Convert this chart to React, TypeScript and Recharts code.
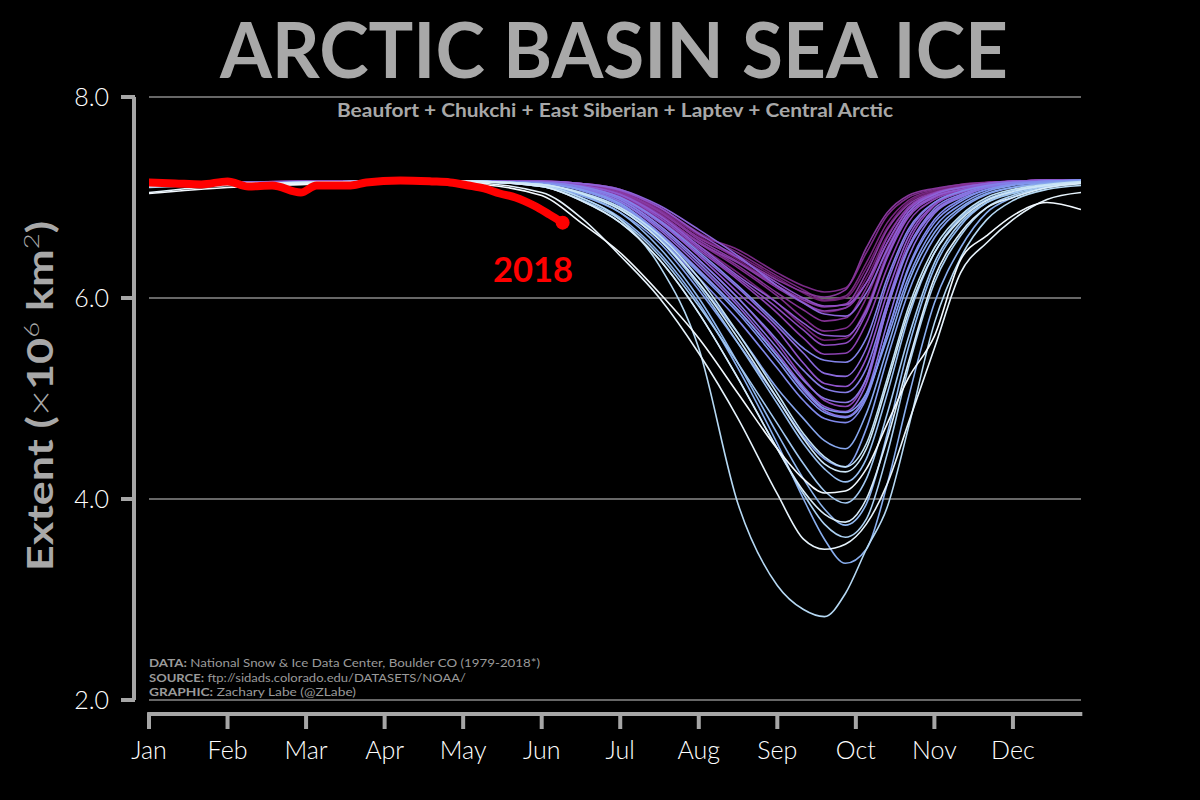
import React from 'react'
import { LineChart, Line, XAxis, YAxis, CartesianGrid, ReferenceLine } from 'recharts'

// day of year for every sample point (shared by 1979-2017)
const DAYS = [0, 30, 60, 90, 120, 150, 165, 180, 195, 210, 225, 240, 250, 258, 266, 274, 282, 290, 300, 310, 320, 330, 343, 356]
const MONTH_TICKS = [0, 30, 60, 90, 120, 150, 180, 210, 240, 270, 300, 330]
const MONTHS = ['Jan', 'Feb', 'Mar', 'Apr', 'May', 'Jun', 'Jul', 'Aug', 'Sep', 'Oct', 'Nov', 'Dec']
const Y_TICKS = [2, 4, 6, 8]

// extent, 10^6 km^2
const E1979 = [7.14, 7.15, 7.15, 7.16, 7.16, 7.16, 7.14, 7.08, 6.9, 6.62, 6.38, 6.12, 5.96, 5.86, 5.9, 6.2, 6.62, 6.9, 7.04, 7.1, 7.14, 7.16, 7.17, 7.17]
const E1980 = [7.13, 7.15, 7.16, 7.16, 7.16, 7.16, 7.13, 7.05, 6.85, 6.6, 6.42, 6.2, 6.05, 5.97, 6.0, 6.3, 6.7, 6.95, 7.06, 7.12, 7.15, 7.16, 7.17, 7.17]
const E1981 = [7.14, 7.15, 7.15, 7.16, 7.16, 7.15, 7.11, 7.02, 6.8, 6.52, 6.25, 5.95, 5.72, 5.58, 5.6, 5.9, 6.45, 6.82, 7.0, 7.08, 7.13, 7.15, 7.17, 7.17]
const E1982 = [7.15, 7.15, 7.16, 7.16, 7.16, 7.16, 7.14, 7.07, 6.9, 6.65, 6.45, 6.22, 6.08, 5.98, 6.02, 6.35, 6.75, 6.97, 7.07, 7.12, 7.15, 7.16, 7.17, 7.17]
const E1983 = [7.14, 7.15, 7.16, 7.16, 7.16, 7.16, 7.14, 7.08, 6.88, 6.63, 6.48, 6.25, 6.12, 6.06, 6.1, 6.45, 6.82, 7.0, 7.08, 7.13, 7.15, 7.16, 7.17, 7.17]
const E1984 = [7.14, 7.15, 7.15, 7.16, 7.16, 7.15, 7.12, 7.04, 6.84, 6.55, 6.3, 6.02, 5.8, 5.67, 5.7, 6.0, 6.5, 6.85, 7.02, 7.1, 7.14, 7.16, 7.17, 7.17]
const E1985 = [7.15, 7.15, 7.16, 7.16, 7.16, 7.15, 7.12, 7.03, 6.82, 6.56, 6.32, 6.05, 5.88, 5.77, 5.8, 6.1, 6.55, 6.88, 7.03, 7.1, 7.14, 7.16, 7.17, 7.17]
const E1986 = [7.14, 7.15, 7.15, 7.16, 7.16, 7.16, 7.13, 7.06, 6.87, 6.6, 6.4, 6.18, 6.06, 6.01, 6.08, 6.5, 6.85, 7.02, 7.09, 7.13, 7.15, 7.16, 7.17, 7.17]
const E1987 = [7.14, 7.15, 7.16, 7.16, 7.16, 7.15, 7.13, 7.05, 6.86, 6.58, 6.36, 6.12, 5.98, 5.91, 5.94, 6.25, 6.68, 6.93, 7.05, 7.11, 7.14, 7.16, 7.17, 7.17]
const E1988 = [7.15, 7.15, 7.15, 7.16, 7.16, 7.15, 7.12, 7.04, 6.83, 6.55, 6.35, 6.1, 5.95, 5.87, 5.9, 6.15, 6.6, 6.9, 7.04, 7.1, 7.14, 7.16, 7.17, 7.17]
const E1989 = [7.14, 7.15, 7.15, 7.16, 7.16, 7.15, 7.11, 7.01, 6.78, 6.48, 6.18, 5.85, 5.6, 5.44, 5.45, 5.75, 6.3, 6.75, 6.98, 7.07, 7.13, 7.15, 7.17, 7.17]
const E1990 = [7.13, 7.14, 7.15, 7.16, 7.16, 7.14, 7.1, 6.98, 6.72, 6.38, 6.0, 5.55, 5.2, 4.98, 4.92, 5.2, 5.95, 6.55, 6.92, 7.05, 7.12, 7.15, 7.16, 7.17]
const E1991 = [7.14, 7.15, 7.15, 7.16, 7.16, 7.15, 7.12, 7.03, 6.8, 6.5, 6.2, 5.9, 5.68, 5.53, 5.55, 5.85, 6.4, 6.8, 7.0, 7.08, 7.13, 7.15, 7.17, 7.17]
const E1992 = [7.15, 7.15, 7.16, 7.16, 7.16, 7.16, 7.14, 7.07, 6.9, 6.64, 6.4, 6.15, 6.0, 5.92, 5.93, 6.15, 6.55, 6.88, 7.04, 7.1, 7.14, 7.16, 7.17, 7.17]
const E1993 = [7.14, 7.15, 7.15, 7.16, 7.16, 7.15, 7.1, 6.99, 6.75, 6.42, 6.05, 5.68, 5.35, 5.15, 5.12, 5.4, 6.05, 6.6, 6.93, 7.05, 7.12, 7.15, 7.16, 7.17]
const E1994 = [7.14, 7.15, 7.15, 7.16, 7.16, 7.15, 7.12, 7.03, 6.82, 6.52, 6.22, 5.95, 5.75, 5.63, 5.62, 5.88, 6.42, 6.82, 7.01, 7.08, 7.13, 7.15, 7.17, 7.17]
const E1995 = [7.13, 7.14, 7.15, 7.16, 7.16, 7.14, 7.09, 6.96, 6.68, 6.32, 5.92, 5.45, 5.12, 4.92, 4.87, 5.15, 5.9, 6.5, 6.87, 7.02, 7.1, 7.14, 7.16, 7.17]
const E1996 = [7.15, 7.15, 7.16, 7.16, 7.16, 7.16, 7.14, 7.08, 6.92, 6.68, 6.42, 6.12, 5.95, 5.84, 5.82, 6.05, 6.48, 6.85, 7.03, 7.1, 7.14, 7.16, 7.17, 7.17]
const E1997 = [7.14, 7.15, 7.15, 7.16, 7.16, 7.15, 7.11, 7.0, 6.76, 6.44, 6.1, 5.72, 5.45, 5.25, 5.22, 5.5, 6.15, 6.65, 6.95, 7.06, 7.12, 7.15, 7.16, 7.17]
const E1998 = [7.13, 7.14, 7.15, 7.15, 7.16, 7.14, 7.08, 6.94, 6.65, 6.28, 5.88, 5.42, 5.08, 4.88, 4.82, 5.05, 5.75, 6.4, 6.84, 7.0, 7.1, 7.14, 7.16, 7.17]
const E1999 = [7.13, 7.14, 7.15, 7.16, 7.16, 7.14, 7.09, 6.96, 6.7, 6.35, 5.95, 5.5, 5.18, 5.0, 4.96, 5.2, 5.9, 6.48, 6.86, 7.01, 7.1, 7.14, 7.16, 7.17]
const E2000 = [7.14, 7.15, 7.15, 7.16, 7.16, 7.15, 7.1, 6.98, 6.72, 6.38, 6.0, 5.58, 5.28, 5.1, 5.06, 5.3, 5.95, 6.5, 6.89, 7.03, 7.11, 7.15, 7.16, 7.17]
const E2001 = [7.14, 7.15, 7.15, 7.16, 7.16, 7.15, 7.11, 7.0, 6.77, 6.46, 6.12, 5.75, 5.5, 5.38, 5.36, 5.6, 6.2, 6.68, 6.95, 7.06, 7.12, 7.15, 7.16, 7.17]
const E2002 = [7.13, 7.14, 7.15, 7.15, 7.16, 7.14, 7.07, 6.92, 6.6, 6.2, 5.78, 5.3, 4.98, 4.8, 4.76, 5.0, 5.65, 6.3, 6.78, 6.98, 7.08, 7.13, 7.16, 7.17]
const E2003 = [7.13, 7.14, 7.15, 7.16, 7.16, 7.14, 7.08, 6.93, 6.63, 6.25, 5.85, 5.38, 5.05, 4.86, 4.81, 5.02, 5.65, 6.28, 6.75, 6.96, 7.08, 7.13, 7.16, 7.17]
const E2004 = [7.13, 7.14, 7.15, 7.15, 7.16, 7.14, 7.08, 6.94, 6.64, 6.27, 5.88, 5.42, 5.1, 4.9, 4.86, 5.05, 5.6, 6.2, 6.7, 6.93, 7.06, 7.12, 7.15, 7.17]
const E2005 = [7.13, 7.14, 7.15, 7.16, 7.16, 7.12, 7.02, 6.85, 6.55, 6.08, 5.55, 5.0, 4.62, 4.4, 4.32, 4.7, 5.4, 6.05, 6.6, 6.88, 7.03, 7.1, 7.14, 7.16]
const E2006 = [7.12, 7.14, 7.15, 7.16, 7.16, 7.13, 7.05, 6.9, 6.6, 6.15, 5.65, 5.1, 4.8, 4.58, 4.5, 4.85, 5.5, 6.15, 6.65, 6.9, 7.04, 7.1, 7.14, 7.16]
const E2007 = [7.13, 7.14, 7.15, 7.16, 7.16, 7.12, 7.0, 6.8, 6.45, 5.95, 5.3, 4.55, 4.0, 3.6, 3.36, 3.5, 4.15, 5.0, 5.95, 6.5, 6.85, 7.0, 7.1, 7.15]
const E2008 = [7.12, 7.14, 7.15, 7.16, 7.16, 7.13, 7.03, 6.85, 6.5, 6.0, 5.35, 4.65, 4.2, 3.9, 3.74, 3.95, 4.65, 5.5, 6.3, 6.72, 6.95, 7.05, 7.12, 7.15]
const E2009 = [7.12, 7.14, 7.15, 7.16, 7.16, 7.13, 7.04, 6.88, 6.58, 6.12, 5.55, 4.95, 4.55, 4.3, 4.17, 4.4, 5.05, 5.8, 6.45, 6.8, 6.98, 7.07, 7.12, 7.15]
const E2010 = [7.11, 7.13, 7.15, 7.15, 7.16, 7.11, 6.98, 6.78, 6.42, 5.92, 5.35, 4.75, 4.35, 4.08, 3.96, 4.2, 4.85, 5.6, 6.35, 6.75, 6.95, 7.04, 7.11, 7.15]
const E2011 = [7.1, 7.13, 7.14, 7.15, 7.16, 7.11, 6.97, 6.75, 6.38, 5.85, 5.2, 4.5, 4.05, 3.75, 3.62, 3.8, 4.45, 5.3, 6.15, 6.62, 6.9, 7.02, 7.1, 7.14]
const E2012 = [7.12, 7.14, 7.15, 7.16, 7.16, 7.12, 7.0, 6.78, 6.32, 5.5, 3.95, 3.14, 2.9, 2.83, 3.06, 3.5, 3.92, 4.7, 5.75, 6.4, 6.78, 6.97, 7.08, 7.12]
const E2013 = [7.13, 7.14, 7.15, 7.16, 7.16, 7.13, 7.05, 6.9, 6.62, 6.2, 5.65, 5.05, 4.65, 4.42, 4.32, 4.55, 5.2, 5.9, 6.5, 6.82, 7.0, 7.08, 7.13, 7.16]
const E2014 = [7.12, 7.14, 7.15, 7.16, 7.16, 7.13, 7.04, 6.88, 6.58, 6.15, 5.6, 5.0, 4.6, 4.35, 4.27, 4.5, 5.15, 5.85, 6.45, 6.78, 6.97, 7.06, 7.12, 7.15]
const E2015 = [7.11, 7.13, 7.15, 7.15, 7.16, 7.11, 6.97, 6.75, 6.38, 5.85, 5.2, 4.5, 4.08, 3.85, 3.77, 4.0, 4.6, 5.35, 6.2, 6.65, 6.9, 7.0, 7.1, 7.14]
const E2016 = [7.05, 7.12, 7.14, 7.15, 7.15, 7.05, 6.8, 6.42, 6.0, 5.45, 4.8, 4.05, 3.6, 3.5, 3.55, 3.75, 4.15, 4.75, 5.5, 6.25, 6.55, 6.78, 6.98, 7.05]
const E2017 = [7.04, 7.1, 7.13, 7.15, 7.14, 7.02, 6.75, 6.45, 6.05, 5.6, 5.05, 4.5, 4.2, 4.06, 4.08, 4.3, 4.75, 5.2, 5.62, 6.38, 6.62, 6.82, 6.95, 6.88]

const YEARS = [1979, 1980, 1981, 1982, 1983, 1984, 1985, 1986, 1987, 1988, 1989, 1990, 1991, 1992, 1993, 1994, 1995, 1996, 1997, 1998, 1999, 2000, 2001, 2002, 2003, 2004, 2005, 2006, 2007, 2008, 2009, 2010, 2011, 2012, 2013, 2014, 2015, 2016, 2017]
const SERIES = [E1979, E1980, E1981, E1982, E1983, E1984, E1985, E1986, E1987, E1988, E1989, E1990, E1991, E1992, E1993, E1994, E1995, E1996, E1997, E1998, E1999, E2000, E2001, E2002, E2003, E2004, E2005, E2006, E2007, E2008, E2009, E2010, E2011, E2012, E2013, E2014, E2015, E2016, E2017]

// 2018 so far (through early June)
const DAYS_2018 = [0, 10, 20, 30, 38, 47, 58, 64, 77, 83, 96, 108, 115, 122, 128, 134, 140, 147, 153, 158]
const E2018 = [7.15, 7.14, 7.13, 7.16, 7.11, 7.12, 7.05, 7.12, 7.12, 7.15, 7.17, 7.16, 7.15, 7.12, 7.09, 7.04, 7.0, 6.92, 6.83, 6.75]

const RAMP = ['#6a1b6a', '#86359a', '#9050c8', '#8a6fe0', '#7f8ded', '#8ab3ef', '#b9dcf3', '#f2f9ff']
const RAMP_POS = [0, 0.18, 0.35, 0.5, 0.62, 0.75, 0.88, 1]

const rgb = (c: string) => [1, 3, 5].map((i) => parseInt(c.slice(i, i + 2), 16))

function rampColor(t: number) {
  let k = 0
  while (k < RAMP_POS.length - 2 && t > RAMP_POS[k + 1]) k++
  const f = (t - RAMP_POS[k]) / (RAMP_POS[k + 1] - RAMP_POS[k])
  const a = rgb(RAMP[k])
  const b = rgb(RAMP[k + 1])
  const c = a.map((v, i) => Math.round(v + (b[i] - v) * f))
  return `rgb(${c[0]},${c[1]},${c[2]})`
}

const FONT = 'Lato, "DejaVu Sans", sans-serif'
const SPINE = '#a6a6a6'
const TEXT_GREY = '#a8a8a8'

const yearData = (vals: number[]) => DAYS.map((d, i) => ({ day: d, v: vals[i] }))
const data2018 = DAYS_2018.map((d, i) => ({ day: d, v: E2018[i] }))

function XTick(props: any) {
  const { x, y, payload } = props
  const label = MONTHS[MONTH_TICKS.indexOf(payload.value)]
  return (
    <g>
      <line x1={x} x2={x} y1={y + 13} y2={y + 29} stroke={SPINE} strokeWidth={4} />
      <text x={x} y={y + 59} textAnchor="middle" fill="#ffffff" fontSize={25} fontWeight={300} fontFamily={FONT}>
        {label}
      </text>
    </g>
  )
}

function YTick(props: any) {
  const { x, y, payload } = props
  return (
    <g>
      <line x1={x - 28} x2={x - 14} y1={y} y2={y} stroke={SPINE} strokeWidth={4} />
      <text x={x - 40} y={y + 9} textAnchor="end" fill="#ffffff" fontSize={25} fontWeight={300} fontFamily={FONT}>
        {payload.value.toFixed(1)}
      </text>
    </g>
  )
}

export default function App() {
  return (
    <div style={{ position: 'fixed', left: 0, top: 0, width: 1200, height: 800, background: '#000', overflow: 'hidden' }}>
      <LineChart width={1200} height={800} margin={{ top: 97, right: 119, bottom: 40, left: 89 }}>
        <CartesianGrid horizontal vertical={false} stroke="#8a8a8a" strokeWidth={1.5} />
        <XAxis
          type="number"
          dataKey="day"
          domain={[0, 356]}
          ticks={MONTH_TICKS}
          interval={0}
          allowDataOverflow
          height={60}
          axisLine={false}
          tickLine={false}
          tickSize={0}
          tickMargin={0}
          tick={(p: any) => <XTick {...p} />}
        />
        <YAxis
          type="number"
          domain={[2, 8]}
          ticks={Y_TICKS}
          interval={0}
          allowDataOverflow
          width={60}
          axisLine={false}
          tickLine={false}
          tickSize={0}
          tickMargin={0}
          tick={(p: any) => <YTick {...p} />}
        />
        <ReferenceLine
          segment={[{ x: -5.73, y: 2 }, { x: -5.73, y: 8 }]}
          ifOverflow="visible"
          stroke={SPINE}
          strokeWidth={4}
        />
        <ReferenceLine
          segment={[{ x: -0.7, y: 1.861 }, { x: 356.5, y: 1.861 }]}
          ifOverflow="visible"
          stroke={SPINE}
          strokeWidth={4}
        />
        {SERIES.map((vals, i) => (
          <Line
            key={YEARS[i]}
            data={yearData(vals)}
            dataKey="v"
            type="monotone"
            stroke={rampColor(i / (SERIES.length - 1))}
            strokeWidth={1.6}
            dot={false}
            activeDot={false}
            isAnimationActive={false}
          />
        ))}
        <Line
          data={data2018}
          dataKey="v"
          type="monotone"
          stroke="#ff0000"
          strokeWidth={8}
          strokeLinecap="round"
          dot={(p: any) =>
            p.index === E2018.length - 1 ? (
              <circle key="end" cx={p.cx} cy={p.cy} r={7} fill="#ff0000" />
            ) : (
              <g key={`d${p.index}`} />
            )
          }
          activeDot={false}
          isAnimationActive={false}
        />
      </LineChart>
      <svg width={1200} height={800} style={{ position: 'absolute', left: 0, top: 0, pointerEvents: 'none' }}>
        <text x={614} y={78} textAnchor="middle" fill={TEXT_GREY} fontSize={76} fontWeight={700} fontFamily={FONT} textLength={788} lengthAdjust="spacingAndGlyphs">
          ARCTIC BASIN SEA ICE
        </text>
        <text x={615} y={117} textAnchor="middle" fill={TEXT_GREY} fontSize={18} fontWeight={700} fontFamily={FONT} textLength={556} lengthAdjust="spacingAndGlyphs">
          Beaufort + Chukchi + East Siberian + Laptev + Central Arctic
        </text>
        <text
          transform="translate(53,396) rotate(-90)"
          textAnchor="middle"
          fill={TEXT_GREY}
          fontSize={36}
          fontWeight={700}
          fontFamily={FONT}
          textLength={350}
          lengthAdjust="spacingAndGlyphs"
        >
          <tspan>Extent (</tspan>
          <tspan fontWeight={300}>×</tspan>
          <tspan>10</tspan>
          <tspan fontWeight={300} fontSize={22} dy={-14}>6</tspan>
          <tspan dy={14}> km</tspan>
          <tspan fontWeight={300} fontSize={22} dy={-14}>2</tspan>
          <tspan dy={14}>)</tspan>
        </text>
        <text x={533} y={282} textAnchor="middle" fill="#ff0000" fontSize={34} fontWeight={700} fontFamily={FONT} textLength={80} lengthAdjust="spacingAndGlyphs">
          2018
        </text>
        <g fill="#9a9a9a" fontSize={12} fontFamily={FONT}>
          <text x={149} y={667} textLength={391} lengthAdjust="spacingAndGlyphs">
            <tspan fontWeight={700}>DATA:</tspan> National Snow &amp; Ice Data Center, Boulder CO (1979-2018*)
          </text>
          <text x={149} y={681.5} textLength={317} lengthAdjust="spacingAndGlyphs">
            <tspan fontWeight={700}>SOURCE:</tspan> ftp://sidads.colorado.edu/DATASETS/NOAA/
          </text>
          <text x={149} y={696} textLength={207} lengthAdjust="spacingAndGlyphs">
            <tspan fontWeight={700}>GRAPHIC:</tspan> Zachary Labe (@ZLabe)
          </text>
        </g>
      </svg>
    </div>
  )
}
